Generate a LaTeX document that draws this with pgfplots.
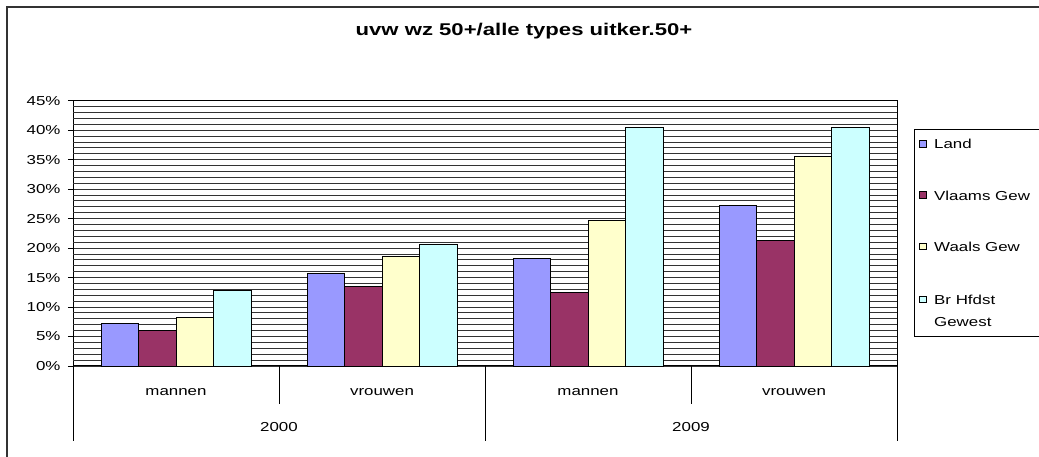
\documentclass[border=0pt]{standalone}
\usepackage{fontspec}
\setmainfont{Liberation Sans}[FakeStretch=1.3]
\usepackage{pgfplots}
\pgfplotsset{compat=1.18}
\definecolor{cLand}{HTML}{9999FF}
\definecolor{cVlaams}{HTML}{993366}
\definecolor{cWaals}{HTML}{FFFFCC}
\definecolor{cBr}{HTML}{CCFFFF}
\begin{document}
\fontsize{13}{15.6}\selectfont
\begin{tikzpicture}
\useasboundingbox (0pt,0pt) rectangle (1039pt,457pt);
\draw[black!80, line width=1.5pt] (7pt,0pt) -- (7pt,450pt) -- (1039pt,450pt);
\node[font=\bfseries\fontsize{17}{20}\selectfont] at (524pt,426pt) {uvw wz 50+/alle types uitker.50+};
\begin{axis}[
  at={(73pt,91pt)}, anchor=south west,
  scale only axis, width=824pt, height=265.3pt,
  xmin=-0.5, xmax=3.5, ymin=0, ymax=45,
  ybar, bar width=0.1818,
  xtick={0,1,2,3}, xticklabels={mannen,vrouwen,mannen,vrouwen},
  xtick style={draw=none},
  xticklabel style={anchor=center, yshift=-21pt},
  ytick={0,5,...,45}, ytick pos=left,
  yticklabel={\pgfmathprintnumber[assume math mode=true]{\tick}\%},
  yticklabel style={xshift=-3pt},
  extra y ticks={1,2,3,4,6,7,8,9,11,12,13,14,16,17,18,19,21,22,23,24,26,27,28,29,31,32,33,34,36,37,38,39,41,42,43,44},
  extra y tick labels={},
  extra y tick style={grid=major, tick style={draw=none}},
  ymajorgrids,
  major grid style={black!80, line width=0.9pt},
  tick align=outside, major tick length=5pt,
  tick style={black, line width=0.8pt},
  axis line style={black, line width=1pt},
  clip=false,
  legend style={at={(axis description cs:1.0206,0.8933)}, anchor=north west,
    draw=black, line width=0.8pt, inner xsep=5pt, inner ysep=8pt, row sep=36pt,
    cells={anchor=base west}},
  legend image code/.code={\draw[#1,draw=black,line width=0.8pt] (0pt,1.8pt) rectangle (6.5pt,8.3pt); \path (12pt,0pt);},
]
\addplot[fill=cLand, draw=black, line width=0.8pt, bar shift=-0.2727] coordinates {(0,7.2) (1,15.7) (2,18.3) (3,27.3)};
\addlegendentry{Land}
\addplot[fill=cVlaams, draw=black, line width=0.8pt, bar shift=-0.0909] coordinates {(0,6.1) (1,13.5) (2,12.4) (3,21.3)};
\addlegendentry{Vlaams Gew\hspace*{6pt}}
\addplot[fill=cWaals, draw=black, line width=0.8pt, bar shift=0.0909] coordinates {(0,8.2) (1,18.6) (2,24.7) (3,35.6)};
\addlegendentry{Waals Gew}
\addplot[fill=cBr, draw=black, line width=0.8pt, bar shift=0.2727] coordinates {(0,12.8) (1,20.7) (2,40.4) (3,40.4)};
\addlegendentry[text depth=22pt]{\begin{tabular}[t]{@{}l@{}}Br Hfdst\\[6pt]Gewest\end{tabular}}
\draw[black, line width=0.8pt] (axis cs:0.5,0) -- ++(0pt,-37.6pt);
\draw[black, line width=0.8pt] (axis cs:2.5,0) -- ++(0pt,-37.6pt);
\draw[black, line width=0.8pt] (axis cs:-0.5,0) -- ++(0pt,-75pt);
\draw[black, line width=0.8pt] (axis cs:1.5,0) -- ++(0pt,-75pt);
\draw[black, line width=0.8pt] (axis cs:3.5,0) -- ++(0pt,-75pt);
\node at ([yshift=-61.3pt]axis cs:0.5,0) {2000};
\node at ([yshift=-61.3pt]axis cs:2.5,0) {2009};
\end{axis}
\end{tikzpicture}
\end{document}
